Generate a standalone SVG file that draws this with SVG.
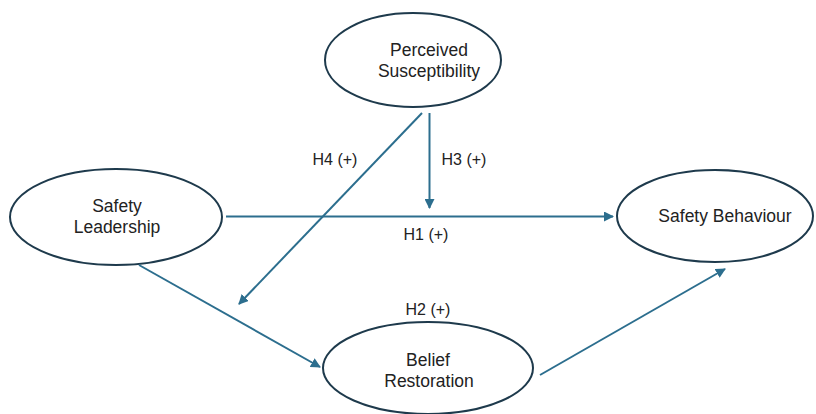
<svg xmlns="http://www.w3.org/2000/svg" width="816" height="414" viewBox="0 0 816 414">
<style>
.node ellipse{fill:#ffffff;stroke:#1e3a4c;stroke-width:2}
.node text{font-family:"Liberation Sans",Arial,sans-serif;font-size:17.5px;fill:#222;text-anchor:middle}
.conn line{stroke:#2c6e8e;stroke-width:2;fill:none}
.lbl{font-family:"Liberation Sans",Arial,sans-serif;font-size:16px;fill:#222;text-anchor:middle}
</style>
<defs>
<marker id="arr" viewBox="0 0 10 10" refX="9" refY="5" markerWidth="5" markerHeight="5" orient="auto" markerUnits="strokeWidth">
<path d="M0,0 L10,5 L0,10 Z" fill="#2c6e8e"/>
</marker>
</defs>
<rect width="816" height="414" fill="#ffffff"/>
<g id="perceived-susceptibility" class="node">
<ellipse cx="413" cy="60" rx="88" ry="47"/>
<text x="429" y="56">Perceived</text>
<text x="429" y="77">Susceptibility</text>
</g>
<g id="safety-leadership" class="node">
<ellipse cx="116" cy="217" rx="106" ry="48"/>
<text x="117" y="212">Safety</text>
<text x="117" y="233">Leadership</text>
</g>
<g id="safety-behaviour" class="node">
<ellipse cx="715" cy="216" rx="98" ry="46"/>
<text x="725" y="222">Safety Behaviour</text>
</g>
<g id="belief-restoration" class="node">
<ellipse cx="428" cy="368" rx="105" ry="46"/>
<text x="428" y="366">Belief</text>
<text x="429" y="387">Restoration</text>
</g>
<g id="connectors" class="conn">
<line x1="226" y1="216.5" x2="613" y2="216.5" marker-end="url(#arr)"/>
<line x1="429.5" y1="113" x2="429.5" y2="208" marker-end="url(#arr)"/>
<line x1="422" y1="113" x2="239" y2="304" marker-end="url(#arr)"/>
<line x1="139" y1="265" x2="320" y2="367" marker-end="url(#arr)"/>
<line x1="540" y1="375" x2="725" y2="269" marker-end="url(#arr)"/>
</g>
<g id="labels">
<text class="lbl" x="335" y="165">H4 (+)</text>
<text class="lbl" x="464" y="165">H3 (+)</text>
<text class="lbl" x="426" y="240">H1 (+)</text>
<text class="lbl" x="428" y="315">H2 (+)</text>
</g>
</svg>
